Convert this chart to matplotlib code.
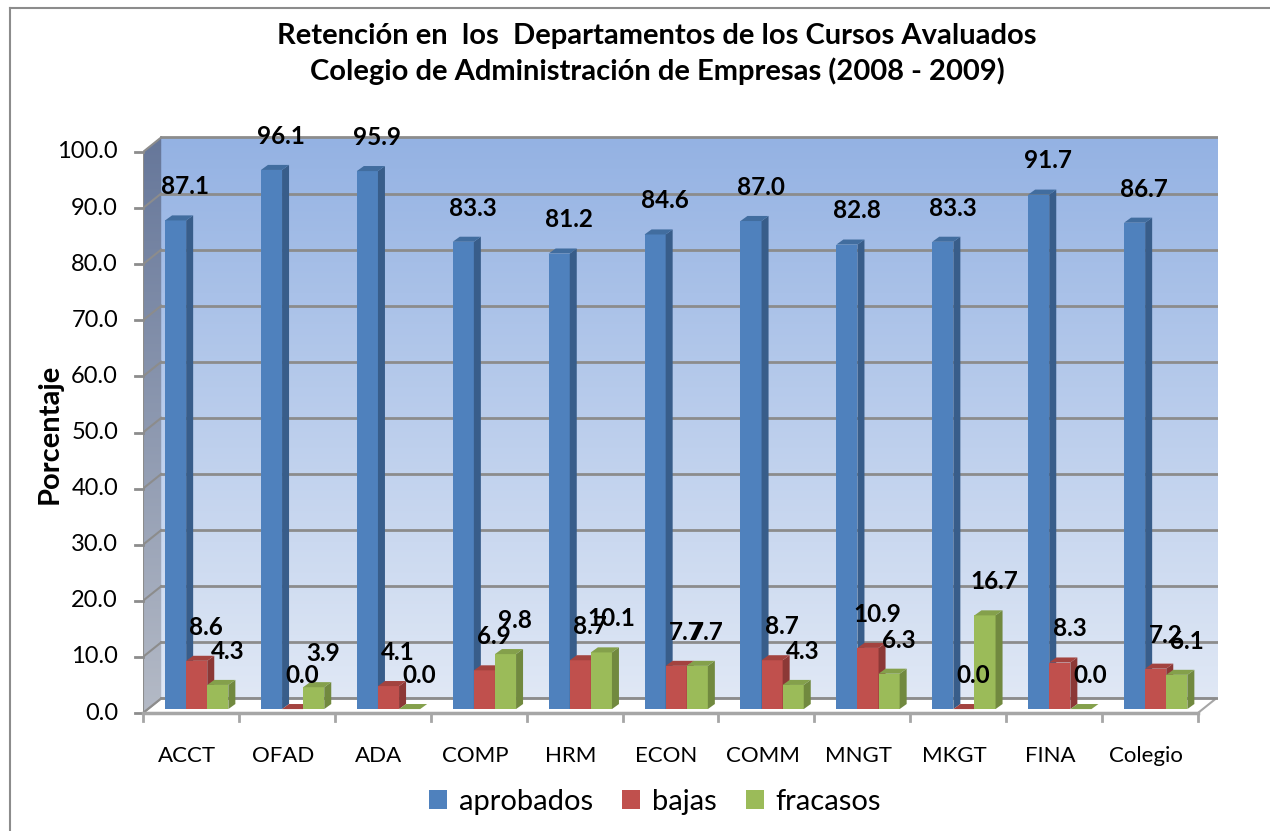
import matplotlib.pyplot as plt
from matplotlib.patches import Polygon, Rectangle, Patch
from matplotlib.lines import Line2D
from matplotlib.colors import LinearSegmentedColormap
import numpy as np

plt.rcParams['font.family'] = ['Lato', 'DejaVu Sans']

departamentos = ['ACCT', 'OFAD', 'ADA', 'COMP', 'HRM', 'ECON', 'COMM', 'MNGT', 'MKGT', 'FINA', 'Colegio']
aprobados = [87.1, 96.1, 95.9, 83.3, 81.2, 84.6, 87.0, 82.8, 83.3, 91.7, 86.7]
bajas = [8.6, 0.0, 4.1, 6.9, 8.7, 7.7, 8.7, 10.9, 0.0, 8.3, 7.2]
fracasos = [4.3, 3.9, 0.0, 9.8, 10.1, 7.7, 4.3, 6.3, 16.7, 0.0, 6.1]
series = ['aprobados', 'bajas', 'fracasos']
yticks = np.arange(0, 101, 10)

front = ['#4f81bd', '#c0504d', '#9bbb59']
side = ['#385d8a', '#8c3836', '#71893f']
top = ['#416d9f', '#a3433f', '#84a04b']

W, H = 1270, 831
fig = plt.figure(figsize=(W / 100, H / 100), dpi=100)
# plot area in pixels: x 143..1218, y 136..713
ax = fig.add_axes([143 / W, 1 - 713 / H, (1218 - 143) / W, (713 - 136) / H])
xmax = (1218 - 143) / 95.9
ymax = (713 - 136) / 5.61
ax.axis('off')

dx, dy = 0.19, 2.6        # depth of walls
bdx, bdy = 0.073, 0.9     # depth of bars
base = 0.7
bw = 0.22
n = len(departamentos)

# back wall with gradient
grad = np.linspace(0, 1, 256).reshape(-1, 1)
cm_back = LinearSegmentedColormap.from_list('b', ['#e0e8f5', '#94b2e3'])
wall = Polygon([(dx, dy), (xmax, dy), (xmax, 100 + dy), (dx, 100 + dy)], closed=True,
               facecolor='none', edgecolor='none')
ax.add_patch(wall)
im = ax.imshow(grad, extent=(dx, xmax, dy, 100 + dy), origin='lower', cmap=cm_back,
               aspect='auto', zorder=0)
im.set_clip_path(wall)

# left wall
cm_left = LinearSegmentedColormap.from_list('l', ['#b4bac6', '#66779a'])
lwall = Polygon([(0, 0), (dx, dy), (dx, 100 + dy), (0, 100)], closed=True,
                facecolor='none', edgecolor='none')
ax.add_patch(lwall)
im2 = ax.imshow(grad, extent=(0, dx, 0, 100 + dy), origin='lower', cmap=cm_left,
                aspect='auto', zorder=0)
im2.set_clip_path(lwall)
ax.set_xlim(0, xmax)
ax.set_ylim(0, ymax)

# floor
ax.add_patch(Polygon([(0, 0), (n, 0), (n + dx, dy), (dx, dy)], closed=True,
                     facecolor='white', edgecolor='#a6a6a6', lw=1.5, zorder=1))

# gridlines
for v in yticks:
    ax.plot([dx, xmax], [v + dy, v + dy], color='#8c8c8c', lw=2, zorder=1)
    ax.plot([0, dx], [v, v + dy], color='#8c8c8c', lw=1.5, zorder=1)
    ax.plot([-0.085, 0], [v, v], color='#8c8c8c', lw=2, zorder=1, clip_on=False)
    ax.text(-0.26, v, '%.1f' % v, ha='right', va='center', fontsize=17, clip_on=False)

ax.plot([0, 0], [0, 100], color='#8c8c8c', lw=1.5, zorder=1)
ax.plot([0, n], [0, 0], color='#a6a6a6', lw=2.5, zorder=1, clip_on=False)
for i in range(n + 1):
    ax.plot([i, i], [0, -1.5], color='#a6a6a6', lw=2, zorder=1, clip_on=False)

for i, d in enumerate(departamentos):
    ax.text(i + 0.46, -7.6, d, ha='center', va='center', fontsize=16, clip_on=False)

# bars
data = [aprobados, bajas, fracasos]
for i in range(n):
    for j in range(3):
        v = data[j][i]
        x0 = i + 0.23 + j * bw
        y1 = base + v
        if v > 0:
            ax.add_patch(Rectangle((x0, base), bw, v, facecolor=front[j], edgecolor='none', zorder=3))
            ax.add_patch(Polygon([(x0 + bw, base), (x0 + bw + bdx, base + bdy),
                                  (x0 + bw + bdx, y1 + bdy), (x0 + bw, y1)], closed=True,
                                 facecolor=side[j], edgecolor='none', zorder=3))
        ax.add_patch(Polygon([(x0, y1), (x0 + bw, y1), (x0 + bw + bdx, y1 + bdy),
                              (x0 + bdx, y1 + bdy)], closed=True,
                             facecolor=top[j], edgecolor='none', zorder=3))
        ax.text(x0 + bw / 2 + 0.1, y1 + 6, '%.1f' % v, ha='center', va='center',
                fontsize=17.5, fontweight='bold', zorder=5, clip_on=False)

fig.text(50 / W, 1 - 434 / H, 'Porcentaje', rotation=90, ha='center', va='center',
         fontsize=21, fontweight='bold')
fig.text(657 / W, 1 - 54 / H, 'Retención en  los  Departamentos de los Cursos Avaluados\n'
         'Colegio de Administración de Empresas (2008 - 2009)',
         ha='center', va='center', fontsize=21, fontweight='bold', linespacing=1.4)

handles = [Patch(facecolor=front[j], edgecolor='none', label=series[j]) for j in range(3)]
fig.legend(handles=handles, loc='center', bbox_to_anchor=(655 / W, 1 - 802 / H), ncol=3,
           frameon=False, fontsize=21, handlelength=0.62, handleheight=0.62,
           handletextpad=0.4, columnspacing=1.0)

# chart frame
fig.add_artist(Line2D([10 / W, 10 / W], [0, 1 - 8 / H], color='#8c8c8c', lw=1.5))
fig.add_artist(Line2D([10 / W, 1], [1 - 8 / H, 1 - 8 / H], color='#8c8c8c', lw=1.5))

fig.savefig('out.png', dpi=100)
